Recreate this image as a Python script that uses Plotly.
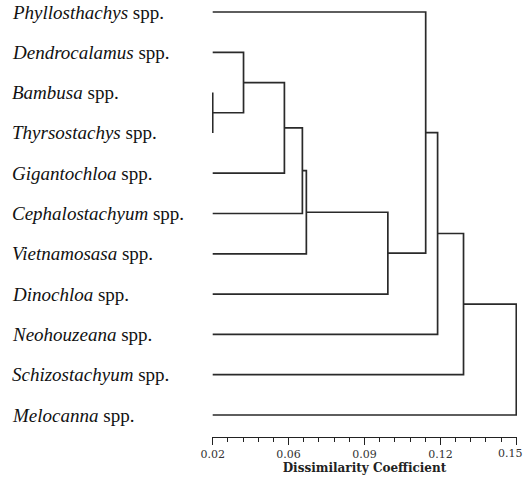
import plotly.graph_objects as go

# Leaf labels (top to bottom) - genus names (italic) followed by "spp."
genera = ["Phyllosthachys", "Dendrocalamus", "Bambusa", "Thyrsostachys",
          "Gigantochloa", "Cephalostachyum", "Vietnamosasa", "Dinochloa",
          "Neohouzeana", "Schizostachyum", "Melocanna"]

# Merge steps: (left cluster, right cluster) referring to leaf names or earlier merge ids
merge_left = ["Bambusa", "Dendrocalamus", "M2", "M3", "M4", "M5", "Phyllosthachys", "M7", "M8", "M9"]
merge_right = ["Thyrsostachys", "M1", "Gigantochloa", "Cephalostachyum", "Vietnamosasa",
               "Dinochloa", "M6", "Neohouzeana", "Schizostachyum", "Melocanna"]
merge_height = [0.020, 0.0332, 0.0507, 0.0584, 0.0601, 0.0950, 0.1112, 0.1163, 0.1274, 0.150]

# Axis ticks
tick_vals = [0.02, 0.0525, 0.085, 0.1175, 0.15]
tick_text = ["0.02", "0.06", "0.09", "0.12", "0.15"]
x_min, x_max = 0.02, 0.15

# Build dendrogram coordinates
pos = {g: -i for i, g in enumerate(genera)}
hgt = {g: x_min for g in genera}
xs, ys = [], []
for k, (a, b, h) in enumerate(zip(merge_left, merge_right, merge_height), start=1):
    ya, yb = pos[a], pos[b]
    xs += [hgt[a], h, h, hgt[b], None]
    ys += [ya, ya, yb, yb, None]
    mid = f"M{k}"
    pos[mid] = (ya + yb) / 2
    hgt[mid] = h

fig = go.Figure()
fig.add_trace(go.Scatter(x=xs, y=ys, mode="lines",
                         line=dict(color="#2a2a2a", width=1.7),
                         hoverinfo="skip", showlegend=False))

W, H = 527, 479
ml, mr, mt, mb = 212, 10, 0, 42
plot_w = W - ml - mr
for g in genera:
    fig.add_annotation(x=(10 - ml) / plot_w, xref="paper", y=pos[g], yref="y",
                       text=f"<i>{g}</i> spp.", showarrow=False,
                       xanchor="left", yanchor="middle",
                       font=dict(family="Liberation Serif", size=19, color="#111111"))

tick_font = dict(family="DejaVu Serif", size=11, color="#333333")
# last tick label drawn as annotation, nudged so it stays inside the page
fig.add_annotation(x=tick_vals[-1], xref="x", y=0, yref="paper", yanchor="top",
                   xanchor="right", xshift=9, yshift=-8, text=tick_text[-1],
                   showarrow=False, font=tick_font)

fig.update_layout(
    width=W, height=H,
    margin=dict(l=ml, r=mr, t=mt, b=mb, autoexpand=False),
    paper_bgcolor="white", plot_bgcolor="white",
    xaxis=dict(range=[x_min - 0.0003, x_max + 0.0003], automargin=False,
               tickvals=tick_vals, ticktext=tick_text[:-1] + [""],
               ticks="outside", ticklen=7, tickwidth=1.3, tickcolor="#222222",
               showline=True, linecolor="#222222", linewidth=1.3,
               showgrid=False, zeroline=False,
               tickfont=tick_font,
               minor=dict(tick0=0.02, dtick=0.0065, ticks="outside", ticklen=4,
                          tickwidth=1.2, tickcolor="#222222", showgrid=False),
               title=dict(text="<b>Dissimilarity Coefficient</b>", standoff=3,
                          font=dict(family="DejaVu Serif", size=12, color="#222222"))),
    yaxis=dict(range=[-10.546, 0.298], visible=False),
)

fig.write_html("out.html", config={"displayModeBar": False},
               post_script="document.body.style.margin='0';")
